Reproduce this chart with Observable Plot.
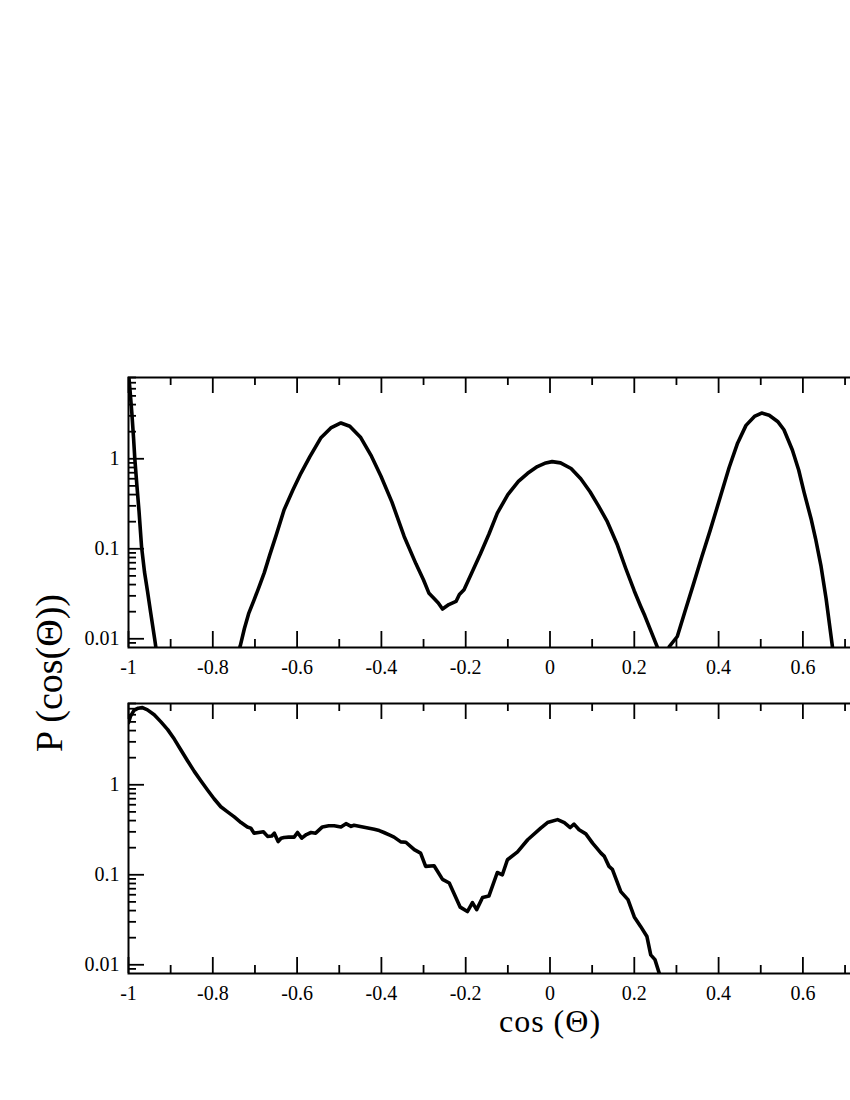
<!DOCTYPE html>
<html><head><meta charset="utf-8">
<script src="https://cdn.jsdelivr.net/npm/d3@7"></script>
<script src="https://cdn.jsdelivr.net/npm/@observablehq/plot@0.6"></script>
<style>
html,body{margin:0;padding:0;background:#fff;overflow:hidden;width:850px;height:1100px;}
.panel{position:absolute;left:0;width:1001px;}
.panel svg{max-width:none !important;}
.lab{position:absolute;font-family:"Liberation Serif","Times New Roman",serif;color:#000;white-space:nowrap;line-height:1;}
</style></head><body>
<div class="panel" id="top" style="top:367px"></div>
<div class="panel" id="bottom" style="top:693px"></div>
<div class="lab" id="xlab" style="font-size:32px;letter-spacing:1px;left:550px;top:1005px;transform:translateX(-50%)">cos (Θ)</div>
<div class="lab" id="ylab" style="font-size:38px;left:49px;top:673px;transform:translate(-50%,-50%) rotate(-90deg)">P (cos(Θ))</div>
<script>
// ---- data ----
const xTop = [-1.000,-0.996,-0.992,-0.988,-0.985,-0.980,-0.975,-0.969,-0.962,-0.955,-0.947,-0.938,-0.930,-0.900,
  -0.780,-0.745,-0.735,-0.725,-0.715,-0.702,-0.690,-0.678,-0.665,-0.650,-0.631,-0.610,-0.591,-0.570,-0.544,-0.520,
  -0.496,-0.475,-0.449,-0.425,-0.401,-0.375,-0.346,-0.318,-0.300,-0.287,-0.275,-0.265,-0.255,-0.240,-0.223,-0.215,
  -0.204,-0.185,-0.165,-0.145,-0.125,-0.100,-0.075,-0.053,-0.030,-0.010,0.005,0.025,0.050,0.073,0.095,0.115,0.136,
  0.160,0.180,0.200,0.215,0.225,0.240,0.255,0.268,0.283,0.302,0.320,0.340,0.360,0.380,0.405,0.425,0.445,0.465,
  0.485,0.502,0.520,0.540,0.555,0.575,0.590,0.603,0.620,0.630,0.643,0.655,0.670,0.680];
const yTop = [9.0,5.5,3.2,1.7,1.0,0.50,0.26,0.105,0.055,0.034,0.019,0.010,0.0055,0.001,
  0.001,0.0058,0.0083,0.013,0.019,0.027,0.038,0.054,0.085,0.14,0.27,0.45,0.69,1.05,1.7,2.2,
  2.5,2.3,1.72,1.1,0.64,0.33,0.137,0.068,0.045,0.032,0.028,0.025,0.0214,0.024,0.026,0.031,
  0.035,0.055,0.088,0.145,0.249,0.40,0.56,0.69,0.82,0.90,0.93,0.90,0.78,0.60,0.43,0.30,0.20,
  0.11,0.060,0.034,0.023,0.018,0.012,0.0080,0.0045,0.0082,0.0106,0.020,0.040,0.081,0.16,0.39,0.80,1.49,2.35,
  2.95,3.22,3.05,2.6,2.1,1.25,0.75,0.42,0.21,0.13,0.064,0.028,0.0082,0.003];

const xBottom = [-1.000,-0.995,-0.987,-0.977,-0.967,-0.955,-0.939,-0.923,-0.907,-0.891,-0.876,-0.860,-0.844,-0.828,
  -0.813,-0.797,-0.781,-0.765,-0.749,-0.733,-0.718,-0.710,-0.702,-0.691,-0.680,-0.670,-0.660,-0.654,-0.645,-0.638,
  -0.631,-0.620,-0.607,-0.599,-0.589,-0.578,-0.567,-0.556,-0.540,-0.525,-0.512,-0.496,-0.484,-0.472,-0.465,-0.441,
  -0.417,-0.405,-0.394,-0.380,-0.370,-0.354,-0.342,-0.322,-0.307,-0.295,-0.275,-0.255,-0.239,-0.228,-0.213,-0.196,
  -0.184,-0.174,-0.160,-0.145,-0.125,-0.113,-0.101,-0.077,-0.053,-0.022,-0.006,0.018,0.034,0.048,0.057,0.069,0.085,
  0.101,0.121,0.129,0.140,0.148,0.168,0.185,0.200,0.215,0.230,0.239,0.249,0.259,0.270];
const yBottom = [4.9,5.8,6.7,7.1,7.2,6.8,6.0,5.0,4.1,3.2,2.45,1.85,1.41,1.1,
  0.88,0.70,0.57,0.50,0.44,0.38,0.34,0.33,0.29,0.295,0.30,0.267,0.27,0.29,0.234,0.255,
  0.26,0.262,0.262,0.295,0.255,0.28,0.295,0.29,0.34,0.35,0.35,0.34,0.37,0.345,0.355,0.338,
  0.32,0.31,0.295,0.275,0.262,0.232,0.23,0.19,0.174,0.124,0.126,0.089,0.081,0.0625,0.0437,0.039,
  0.049,0.041,0.056,0.058,0.106,0.10,0.147,0.18,0.245,0.33,0.38,0.41,0.38,0.335,0.365,0.316,0.285,
  0.225,0.174,0.16,0.124,0.115,0.065,0.053,0.034,0.0267,0.0206,0.0129,0.0114,0.0081,0.005];

// ---- axes ----
const xMajor = [-1,-0.8,-0.6,-0.4,-0.2,0,0.2,0.4,0.6,0.8,1];
const xLabelled = [-1,-0.8,-0.6,-0.4,-0.2,0,0.2,0.4,0.6];
const xTickLabels = ["-1","-0.8","-0.6","-0.4","-0.2","0","0.2","0.4","0.6"];
const xMinor = [-0.9,-0.7,-0.5,-0.3,-0.1,0.1,0.3,0.5,0.7,0.9];
const yMajor = [0.01,0.1,1];
const yTickLabels = ["0.01","0.1","1"];
const yMinor = [0.009,0.02,0.03,0.04,0.05,0.06,0.07,0.08,0.09,0.2,0.3,0.4,0.5,0.6,0.7,0.8,0.9,2,3,4,5,6,7,8];
const xDomain = [-1, 1];
const yDomain = [0.008, 8];

const mT = 10, mB = 45, mL = 128, mR = 30;
const W = 1001, H = 270 + mT + mB;
const plotW = W - mL - mR, plotH = H - mT - mB;
const major = 16, minor = 8;
const svgStyle = "font-family:'Liberation Serif','Times New Roman',serif;font-size:20px;color:#000;background:#fff;overflow:visible;max-width:none;";

function panel(xs, ys) {
  const data = xs.map((x, i) => ({x, y: ys[i]}));
  return Plot.plot({
    width: W, height: H,
    marginTop: mT, marginBottom: mB, marginLeft: mL, marginRight: mR,
    style: svgStyle,
    x: {type: "linear", domain: xDomain},
    y: {type: "log", domain: yDomain},
    marks: [
      Plot.line(data, {x: "x", y: "y", stroke: "#000", strokeWidth: 3.6, clip: true, strokeLinejoin: "round"}),
      // inward ticks: bottom
      Plot.tickX(xMajor, {x: d => d, stroke: "#000", strokeWidth: 1.8, insetTop: plotH - major}),
      Plot.tickX(xMinor, {x: d => d, stroke: "#000", strokeWidth: 1.8, insetTop: plotH - minor}),
      // top
      Plot.tickX(xMajor, {x: d => d, stroke: "#000", strokeWidth: 1.8, insetBottom: plotH - major}),
      Plot.tickX(xMinor, {x: d => d, stroke: "#000", strokeWidth: 1.8, insetBottom: plotH - minor}),
      // left
      Plot.tickY(yMajor, {y: d => d, stroke: "#000", strokeWidth: 1.8, insetRight: plotW - major}),
      Plot.tickY(yMinor, {y: d => d, stroke: "#000", strokeWidth: 1.8, insetRight: plotW - minor}),
      // right
      Plot.tickY(yMajor, {y: d => d, stroke: "#000", strokeWidth: 1.8, insetLeft: plotW - major}),
      Plot.tickY(yMinor, {y: d => d, stroke: "#000", strokeWidth: 1.8, insetLeft: plotW - minor}),
      Plot.axisX({ticks: xLabelled, tickSize: 0, tickPadding: 12, label: null,
        tickFormat: d => xTickLabels[xLabelled.indexOf(d)], fontSize: 20}),
      Plot.axisY({ticks: yMajor, tickSize: 0, tickPadding: 9, label: null,
        tickFormat: d => yTickLabels[yMajor.indexOf(d)], fontSize: 20}),
      Plot.frame({stroke: "#000", strokeWidth: 2})
    ]
  });
}

document.getElementById("top").appendChild(panel(xTop, yTop));
document.getElementById("bottom").appendChild(panel(xBottom, yBottom));
</script>
</body></html>
